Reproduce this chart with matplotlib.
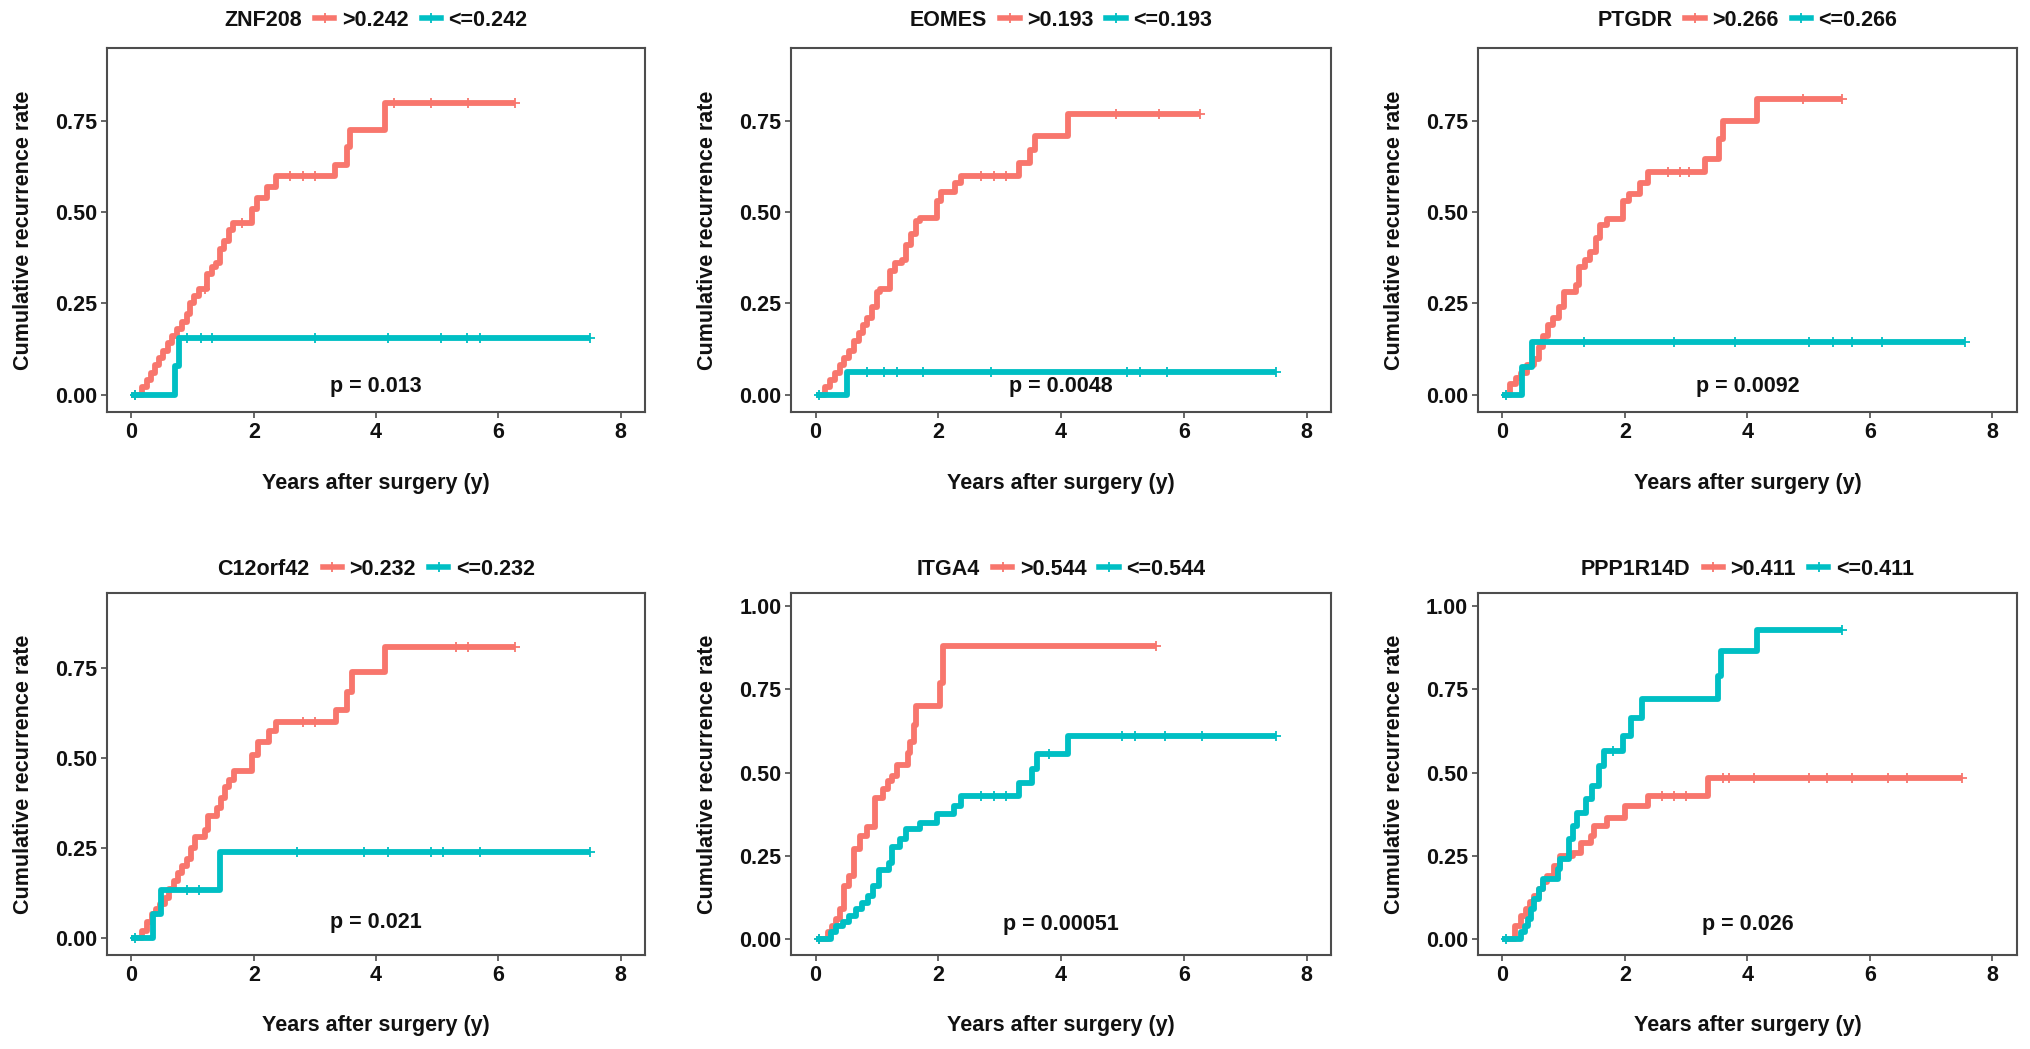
import numpy as np
import matplotlib
matplotlib.use("Agg")
import matplotlib.pyplot as plt
from matplotlib.lines import Line2D

plt.rcParams['font.family'] = ['Liberation Sans', 'DejaVu Sans']
plt.rcParams['font.weight'] = 'bold'

RED = "#F8766D"
TEAL = "#00BFC4"

# ---- ZNF208 ----
znf208_hi_t = [0, 0.18, 0.25, 0.32, 0.38, 0.45, 0.52, 0.60, 0.67, 0.75, 0.82, 0.90, 0.96, 1.03, 1.10, 1.24,
               1.31, 1.38, 1.45, 1.52, 1.59, 1.66, 1.97, 2.05, 2.22, 2.37, 3.33, 3.52, 3.58, 4.14, 6.27]
znf208_hi_y = [0, 0.02, 0.04, 0.06, 0.08, 0.10, 0.12, 0.14, 0.16, 0.18, 0.20, 0.22, 0.25, 0.27, 0.29, 0.33,
               0.35, 0.36, 0.40, 0.42, 0.45, 0.47, 0.51, 0.54, 0.57, 0.60, 0.63, 0.68, 0.725, 0.80, 0.80]
znf208_hi_cens = [0.05, 1.2, 1.8, 2.6, 2.8, 3.0, 4.3, 4.9, 5.5, 6.27]
znf208_lo_t = [0, 0.71, 0.78, 7.5]
znf208_lo_y = [0, 0.077, 0.155, 0.155]
znf208_lo_cens = [0.05, 0.9, 1.13, 1.31, 3.0, 4.2, 5.06, 5.49, 5.7, 7.5]

# ---- EOMES ----
eomes_hi_t = [0, 0.16, 0.24, 0.32, 0.40, 0.47, 0.55, 0.62, 0.70, 0.77, 0.83, 0.92, 1.00, 1.05, 1.22, 1.29,
              1.40, 1.47, 1.55, 1.64, 1.70, 1.97, 2.05, 2.27, 2.37, 3.31, 3.50, 3.57, 4.12, 6.27]
eomes_hi_y = [0, 0.02, 0.04, 0.06, 0.08, 0.10, 0.12, 0.146, 0.17, 0.19, 0.21, 0.24, 0.28, 0.29, 0.34, 0.36,
              0.37, 0.41, 0.44, 0.475, 0.485, 0.53, 0.555, 0.58, 0.60, 0.635, 0.67, 0.71, 0.77, 0.77]
eomes_hi_cens = [2.7, 2.9, 3.1, 4.9, 5.6, 6.27]
eomes_lo_t = [0, 0.51, 7.5]
eomes_lo_y = [0, 0.063, 0.063]
eomes_lo_cens = [0.05, 0.83, 1.11, 1.33, 1.75, 2.85, 5.08, 5.29, 5.72, 7.5]

# ---- PTGDR ----
ptgdr_hi_t = [0, 0.13, 0.22, 0.31, 0.40, 0.52, 0.60, 0.66, 0.75, 0.83, 0.92, 1.00, 1.20, 1.25, 1.35, 1.43,
              1.52, 1.60, 1.70, 1.97, 2.07, 2.25, 2.37, 3.31, 3.53, 3.60, 4.15, 5.55]
ptgdr_hi_y = [0, 0.03, 0.045, 0.06, 0.08, 0.097, 0.13, 0.16, 0.19, 0.21, 0.24, 0.28, 0.30, 0.35, 0.37, 0.39,
              0.43, 0.465, 0.48, 0.53, 0.55, 0.58, 0.61, 0.645, 0.70, 0.75, 0.81, 0.81]
ptgdr_hi_cens = [2.7, 2.9, 3.05, 4.9, 5.55]
ptgdr_lo_t = [0, 0.32, 0.48, 7.55]
ptgdr_lo_y = [0, 0.075, 0.143, 0.143]
ptgdr_lo_cens = [0.05, 1.33, 2.8, 3.8, 5.0, 5.4, 5.7, 6.2, 7.55]

# ---- C12orf42 ----
c12_hi_t = [0, 0.18, 0.26, 0.33, 0.40, 0.47, 0.54, 0.62, 0.69, 0.76, 0.83, 0.90, 0.97, 1.04, 1.20, 1.25,
            1.40, 1.47, 1.53, 1.60, 1.67, 1.97, 2.07, 2.25, 2.37, 3.34, 3.52, 3.60, 4.15, 6.27]
c12_hi_y = [0, 0.02, 0.045, 0.065, 0.08, 0.095, 0.11, 0.135, 0.157, 0.18, 0.20, 0.22, 0.25, 0.28, 0.30, 0.34,
            0.36, 0.39, 0.42, 0.44, 0.465, 0.51, 0.545, 0.575, 0.60, 0.635, 0.685, 0.74, 0.81, 0.81]
c12_hi_cens = [2.8, 3.0, 5.3, 5.5, 6.27]
c12_lo_t = [0, 0.36, 0.48, 1.45, 7.5]
c12_lo_y = [0, 0.067, 0.133, 0.24, 0.24]
c12_lo_cens = [0.05, 0.9, 1.1, 2.7, 3.8, 4.2, 4.9, 5.1, 5.7, 7.5]

# ---- ITGA4 ----
itga4_hi_t = [0, 0.20, 0.26, 0.33, 0.40, 0.47, 0.55, 0.62, 0.72, 0.83, 0.97, 1.10, 1.18, 1.24, 1.33, 1.50,
              1.54, 1.61, 1.64, 2.02, 2.08, 5.54]
itga4_hi_y = [0, 0.02, 0.04, 0.06, 0.09, 0.158, 0.19, 0.27, 0.31, 0.336, 0.425, 0.45, 0.474, 0.49, 0.524, 0.56,
              0.593, 0.642, 0.70, 0.77, 0.88, 0.88]
itga4_hi_cens = [0.05, 5.54]
itga4_lo_t = [0, 0.25, 0.33, 0.45, 0.55, 0.65, 0.76, 0.85, 0.94, 1.04, 1.20, 1.25, 1.38, 1.47, 1.70, 1.97,
              2.25, 2.37, 3.31, 3.52, 3.60, 4.12, 7.5]
itga4_lo_y = [0, 0.02, 0.04, 0.05, 0.07, 0.09, 0.109, 0.13, 0.158, 0.208, 0.23, 0.277, 0.30, 0.33, 0.35, 0.375,
              0.40, 0.43, 0.47, 0.51, 0.555, 0.61, 0.61]
itga4_lo_cens = [0.05, 2.7, 2.9, 3.1, 3.8, 5.0, 5.2, 5.7, 6.3, 7.5]

# ---- PPP1R14D ----
ppp_hi_t = [0, 0.20, 0.31, 0.38, 0.45, 0.52, 0.59, 0.66, 0.73, 0.84, 0.94, 1.15, 1.29, 1.45, 1.50, 1.70,
            2.00, 2.37, 3.35, 7.5]
ppp_hi_y = [0, 0.04, 0.07, 0.09, 0.11, 0.13, 0.15, 0.17, 0.19, 0.22, 0.25, 0.26, 0.29, 0.31, 0.34, 0.365,
            0.40, 0.43, 0.485, 0.485]
ppp_hi_cens = [2.6, 2.8, 3.0, 3.6, 3.7, 4.1, 5.0, 5.3, 5.7, 6.3, 6.6, 7.5]
ppp_lo_t = [0, 0.30, 0.36, 0.41, 0.47, 0.52, 0.60, 0.66, 0.90, 0.94, 1.08, 1.15, 1.22, 1.36, 1.46, 1.57,
            1.65, 1.97, 2.10, 2.27, 3.52, 3.57, 4.15, 5.54]
ppp_lo_y = [0, 0.02, 0.04, 0.06, 0.09, 0.12, 0.15, 0.18, 0.21, 0.24, 0.30, 0.34, 0.38, 0.42, 0.46, 0.52,
            0.565, 0.61, 0.665, 0.72, 0.79, 0.865, 0.93, 0.93]
ppp_lo_cens = [0.05, 1.8, 5.54]

genes = ["ZNF208", "EOMES", "PTGDR", "C12orf42", "ITGA4", "PPP1R14D"]
cutoffs = ["0.242", "0.193", "0.266", "0.232", "0.544", "0.411"]
pvalues = ["0.013", "0.0048", "0.0092", "0.021", "0.00051", "0.026"]

curves = [
    (znf208_hi_t, znf208_hi_y, znf208_hi_cens, znf208_lo_t, znf208_lo_y, znf208_lo_cens),
    (eomes_hi_t, eomes_hi_y, eomes_hi_cens, eomes_lo_t, eomes_lo_y, eomes_lo_cens),
    (ptgdr_hi_t, ptgdr_hi_y, ptgdr_hi_cens, ptgdr_lo_t, ptgdr_lo_y, ptgdr_lo_cens),
    (c12_hi_t, c12_hi_y, c12_hi_cens, c12_lo_t, c12_lo_y, c12_lo_cens),
    (itga4_hi_t, itga4_hi_y, itga4_hi_cens, itga4_lo_t, itga4_lo_y, itga4_lo_cens),
    (ppp_hi_t, ppp_hi_y, ppp_hi_cens, ppp_lo_t, ppp_lo_y, ppp_lo_cens),
]

# layout (figure fractions)
lefts = [0.0527, 0.3895, 0.7277]
bottoms = [0.6072, 0.0896]
widths = [0.2649, 0.2659, 0.2654]
heights = [0.3470, 0.3451]
ytops = [0.95, 0.95, 0.95, 0.96, 1.04, 1.04]
pval_y = [0.022, 0.022, 0.023, 0.042, 0.044, 0.045]

FS = 15.5


def draw_curve(ax, t, y, cens, color):
    t = np.asarray(t)
    y = np.asarray(y)
    ax.step(t, y, where="post", color=color, lw=4.2, solid_capstyle="butt")
    idx = np.searchsorted(t, cens, side="right") - 1
    ax.plot(cens, y[idx], ls="none", marker="+", ms=7, mew=1.3, color=color)


fig = plt.figure(figsize=(20.31, 10.49), dpi=100)

for i, gene in enumerate(genes):
    r, c = divmod(i, 3)
    ax = fig.add_axes([lefts[c], bottoms[r], widths[c], heights[r]])
    hi_t, hi_y, hi_c, lo_t, lo_y, lo_c = curves[i]
    draw_curve(ax, hi_t, hi_y, hi_c, RED)
    draw_curve(ax, lo_t, lo_y, lo_c, TEAL)

    ax.set_xlim(-0.4, 8.4)
    ax.set_xticks([0, 2, 4, 6, 8])
    top = ytops[i]
    ax.set_ylim(-0.048, top)
    if top > 1:
        ax.set_yticks([0, 0.25, 0.5, 0.75, 1.0])
        ax.set_yticklabels(["0.00", "0.25", "0.50", "0.75", "1.00"])
    else:
        ax.set_yticks([0, 0.25, 0.5, 0.75])
        ax.set_yticklabels(["0.00", "0.25", "0.50", "0.75"])

    for s in ax.spines.values():
        s.set_color("#4d4d4d")
        s.set_linewidth(1.5)
    ax.tick_params(labelsize=FS, length=4, width=1.2, color="#4d4d4d", pad=3, labelcolor="#111111")
    for lab in ax.get_xticklabels() + ax.get_yticklabels():
        lab.set_fontweight("bold")

    ax.set_xlabel("Years after surgery (y)", fontsize=FS, fontweight="bold", color="#111111")
    ax.xaxis.set_label_coords(0.5, -0.195)
    ax.xaxis.label.set_va("center")
    ax.set_ylabel("Cumulative recurrence rate", fontsize=FS, fontweight="bold", color="#111111")
    ax.yaxis.set_label_coords(-0.155, 0.5)
    ax.yaxis.label.set_va("center")

    ax.text(4, pval_y[i], "p = " + pvalues[i], ha="center", va="center",
            fontsize=FS, fontweight="bold", color="#111111")

    handles = [
        Line2D([], [], color="none"),
        Line2D([], [], color=RED, lw=4, marker="+", ms=7, mew=1.3),
        Line2D([], [], color=TEAL, lw=4, marker="+", ms=7, mew=1.3),
    ]
    labels = [gene, ">" + cutoffs[i], "<=" + cutoffs[i]]
    leg_y = 1.077 if r == 0 else 1.066
    leg = ax.legend(handles, labels, ncol=3, loc="center", bbox_to_anchor=(0.475, leg_y),
                    frameon=False, fontsize=FS, handlelength=0.9, handletextpad=0.35,
                    columnspacing=0.6, borderpad=0, borderaxespad=0)
    for txt in leg.get_texts():
        txt.set_fontweight("bold")
        txt.set_color("#111111")

fig.savefig("out.png", dpi=100)
